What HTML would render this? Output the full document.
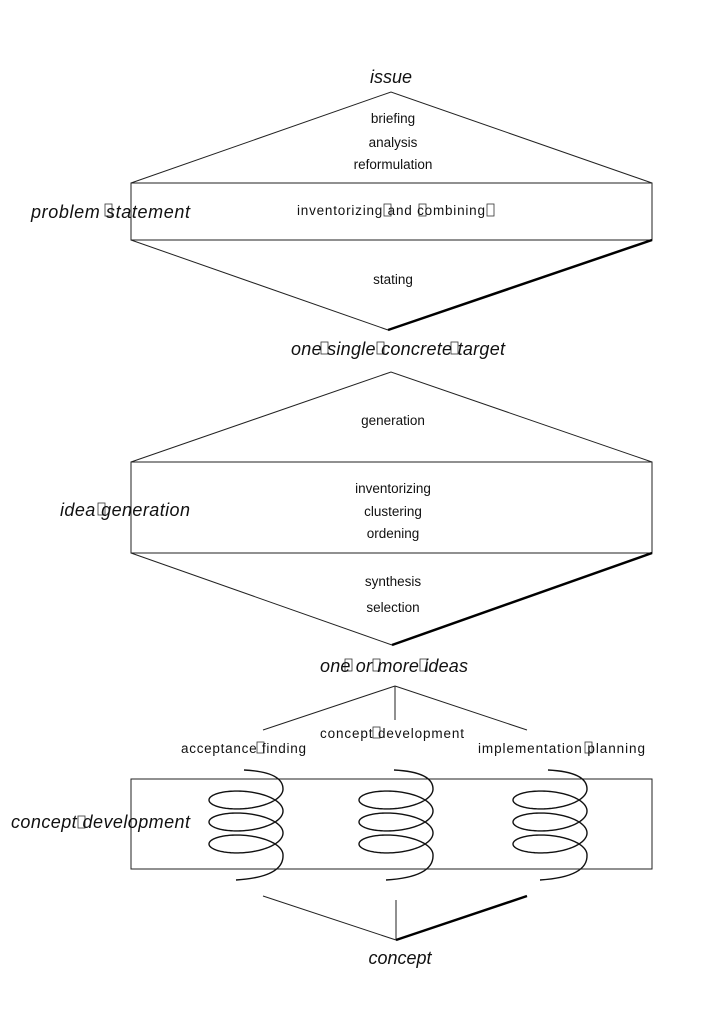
<!DOCTYPE html>
<html><head><style>
body{margin:0;background:#fff;}
svg text{font-family:"Liberation Sans",sans-serif;fill:#111;}
.n{font-size:13.5px;}
.it{font-size:18px;font-style:italic;}
</style></head><body>
<svg id="s" width="717" height="1013" viewBox="0 0 717 1013" xmlns="http://www.w3.org/2000/svg">
<g stroke="#222" stroke-width="1" fill="none">
<path d="M131,183 L391,92 L652,183 Z"/>
<rect x="131" y="183" width="521" height="57"/>
<path d="M131,240 L388,330"/>
<path d="M131,462 L391,372 L652,462 Z"/>
<rect x="131" y="462" width="521" height="91"/>
<path d="M131,553 L392,645"/>
<path d="M395,686 L263,730 M395,686 L395,720 M395,686 L527,730"/>
<rect x="131" y="779" width="521" height="90"/>
<path d="M263,896 L396,940 M396,900 L396,940"/>
</g>
<g stroke="#000" stroke-width="2.5">
<path d="M388,330 L652,240"/>
<path d="M392,645 L652,553"/>
<path d="M396,940 L527,896"/>
</g>
<g id="coils" fill="none" stroke="#111" stroke-width="1.4"></g>
<g fill="none" stroke="#333" stroke-width="0.8">
<rect x="105" y="204" width="7" height="12"/>
<rect x="384" y="204" width="7" height="12"/>
<rect x="419" y="204" width="7" height="12"/>
<rect x="487" y="204" width="7" height="12"/>
<rect x="321" y="342" width="7" height="12"/>
<rect x="377" y="342" width="7" height="12"/>
<rect x="451" y="342" width="7" height="12"/>
<rect x="98" y="503" width="7" height="12"/>
<rect x="345" y="659" width="7" height="12"/>
<rect x="373" y="659" width="7" height="12"/>
<rect x="420" y="659" width="7" height="12"/>
<rect x="257" y="742" width="7" height="11"/>
<rect x="373" y="727" width="7" height="11"/>
<rect x="585" y="742" width="7" height="11"/>
<rect x="78" y="816" width="7" height="12"/>
</g>
<text class="it" x="391" y="83" text-anchor="middle">issue</text>
<text class="n" x="393" y="123" text-anchor="middle">briefing</text>
<text class="n" x="393" y="147" text-anchor="middle">analysis</text>
<text class="n" x="393" y="169" text-anchor="middle">reformulation</text>
<text class="it" x="31" y="218" textLength="159" lengthAdjust="spacing">problem statement</text>
<text class="n" x="297" y="215" textLength="188" lengthAdjust="spacing">inventorizing and combining</text>
<text class="n" x="393" y="284" text-anchor="middle">stating</text>
<text class="it" x="291" y="355" textLength="214" lengthAdjust="spacing">one single concrete target</text>
<text class="n" x="393" y="425" text-anchor="middle">generation</text>
<text class="it" x="60" y="516" textLength="130" lengthAdjust="spacing">idea generation</text>
<text class="n" x="393" y="493" text-anchor="middle">inventorizing</text>
<text class="n" x="393" y="516" text-anchor="middle">clustering</text>
<text class="n" x="393" y="538" text-anchor="middle">ordening</text>
<text class="n" x="393" y="586" text-anchor="middle">synthesis</text>
<text class="n" x="393" y="612" text-anchor="middle">selection</text>
<text class="it" x="320" y="672" textLength="148" lengthAdjust="spacing">one or more ideas</text>
<text class="n" x="320" y="738" textLength="144" lengthAdjust="spacing">concept development</text>
<text class="n" x="181" y="753" textLength="125" lengthAdjust="spacing">acceptance finding</text>
<text class="n" x="478" y="753" textLength="167" lengthAdjust="spacing">implementation planning</text>
<text class="it" x="11" y="828" textLength="179" lengthAdjust="spacing">concept development</text>
<text class="it" x="400" y="964" text-anchor="middle">concept</text>
</svg>
<script>
var g=document.getElementById('coils');
[246,396,550].forEach(function(cx){
  var Y=789,d="M"+(cx-2)+",770 Q"+(cx+37)+",772 "+(cx+37)+","+Y;
  for(var i=1;i<=360;i++){
    var t=i/360*6*Math.PI;
    var x=cx+37*Math.cos(t), y=Y+3.5*t+14*Math.sin(t);
    d+=" L"+x.toFixed(2)+","+y.toFixed(2);
  }
  var ey=Y+3.5*6*Math.PI;
  d+=" Q"+(cx+38)+","+(ey+22)+" "+(cx-10)+",880";
  var p=document.createElementNS("http://www.w3.org/2000/svg","path");
  p.setAttribute("d",d);g.appendChild(p);
});
</script>
</body></html>
